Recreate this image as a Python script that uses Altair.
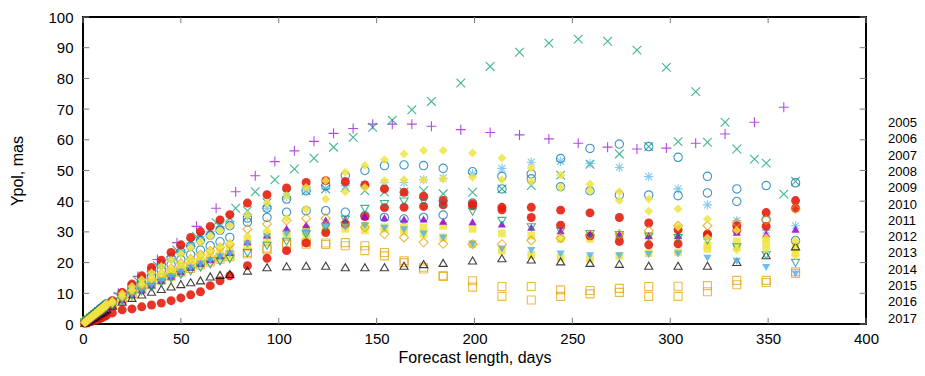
import altair as alt
import pandas as pd

FONT = "Liberation Sans"

YEARS = ["2005", "2006", "2007", "2008", "2009", "2010", "2011",
         "2012", "2013", "2014", "2015", "2016", "2017"]
COLORS = ["#9400D3", "#009E73", "#56B4E9", "#E69F00", "#F0E442", "#0072B2", "#E51E10",
          "#000000", "#9400D3", "#009E73", "#56B4E9", "#E69F00", "#F0E442"]

XTICKS = [0, 50, 100, 150, 200, 250, 300, 350, 400]
YTICKS = [0, 10, 20, 30, 40, 50, 60, 70, 80, 90, 100]

# forecast lengths (days)
DAYS_M = [1, 2, 3, 4, 5, 6, 7, 8, 9, 10, 11, 12,
          15, 20, 25, 30, 35, 40, 45, 50, 55, 60, 65, 70, 75,
          84, 94, 104, 114, 124, 134, 144, 154, 164, 174, 184,
          199, 214, 229, 244, 259, 274, 289, 304, 319, 334, 349, 364]
DAYS_P = [8, 18, 28, 38, 48, 58, 68, 78, 88, 98, 108, 118, 128, 138, 148, 158, 168, 178,
          193, 208, 223, 238, 253, 268, 283, 298, 313, 328, 343, 358]

Y2005 = [4.5, 10.0, 15.5, 21.0, 26.5, 31.8, 37.7, 43.1, 48.3, 52.9, 56.4, 59.5, 62.1, 63.7, 65.1, 65.1, 65.1, 64.4,
         63.3, 62.4, 61.6, 60.3, 58.9, 57.6, 57.0, 57.3, 58.9, 61.9, 65.7, 70.6]
Y2006_A = [4.0, 9.0, 14.0, 19.0, 24.0, 28.5, 33.0, 37.7, 43.1, 47.0, 50.5, 54.0, 57.6, 60.8, 64.1, 66.4, 69.8, 72.5,
           78.5, 83.9, 88.5, 91.5, 92.8, 92.1, 89.2, 83.6, 75.7, 65.7, 53.7, 42.3]
Y2006_B = [0.5, 1.0, 1.5, 2.0, 2.5, 3.0, 3.5, 4.0, 4.5, 5.0, 5.5, 6.0,
           7.0, 9.5, 12.0, 14.5, 17.0, 19.5, 22.0, 24.5, 26.5, 28.5, 30.5, 32.5, 34.5,
           36.9, 39.5, 42.4, 43.4, 44.0, 44.5, 43.4, 43.0, 43.0, 43.4, 42.4,
           42.9, 44.0, 45.1, 48.5, 52.0, 55.4, 57.8, 59.4, 59.2, 57.0, 52.4, 46.5]
Y2007 = [0.6, 1.1, 1.7, 2.2, 2.8, 3.3, 3.9, 4.4, 5.0, 5.5, 6.1, 6.6,
         7.3, 9.8, 12.3, 14.8, 17.2, 19.6, 22.0, 24.2, 26.4, 28.4, 30.2, 31.7, 32.9,
         35.0, 37.7, 41.5, 43.4, 44.0, 45.0, 45.5, 46.0, 46.1, 47.0, 47.5,
         49.0, 50.7, 52.7, 53.0, 52.3, 51.0, 48.0, 44.0, 38.8, 33.7, 30.5, 32.0]
Y2008_A = [0.5, 1.0, 1.4, 1.9, 2.4, 2.8, 3.3, 3.8, 4.2, 4.7, 5.2, 5.6,
           6.4, 8.3, 10.1, 11.8, 13.4, 14.9, 16.3, 17.6, 18.8, 19.9, 20.9, 21.8, 22.6,
           23.3, 24.7, 26.3, 26.6, 26.4, 26.5, 25.5, 23.3, 20.6, 18.5, 15.7,
           14.1, 12.2, 12.2, 11.1, 10.9, 11.6, 12.2, 12.3, 12.5, 14.2, 14.2, 17.0]
Y2008_B = [0.4, 0.9, 1.3, 1.8, 2.2, 2.7, 3.1, 3.6, 4.0, 4.5, 4.9, 5.4,
           6.2, 8.0, 9.7, 11.3, 12.8, 14.3, 15.6, 16.9, 18.1, 19.2, 20.2, 21.1, 21.9,
           22.8, 24.2, 25.8, 26.0, 25.9, 25.5, 23.9, 22.2, 20.0, 17.9, 15.5,
           12.0, 9.0, 7.8, 9.0, 9.8, 10.3, 9.0, 9.0, 10.5, 12.8, 13.5, 16.5]
Y2009_A = [0.5, 1.0, 1.5, 2.0, 2.4, 2.9, 3.4, 3.9, 4.4, 4.9, 5.3, 5.8,
           6.8, 8.7, 10.5, 12.2, 13.9, 15.5, 17.0, 18.5, 19.9, 21.2, 22.4, 23.5, 24.5,
           27.0, 29.0, 29.8, 31.0, 31.7, 32.0, 32.0, 31.5, 31.5, 31.5, 32.0,
           31.0, 29.5, 28.8, 27.7, 27.7, 28.5, 28.5, 28.0, 25.5, 26.9, 27.7, 25.0]
Y2009_B = [0.5, 0.9, 1.4, 1.9, 2.3, 2.8, 3.2, 3.7, 4.2, 4.6, 5.1, 5.5,
           6.5, 8.3, 10.0, 11.7, 13.3, 14.8, 16.2, 17.5, 18.7, 19.8, 20.8, 21.7, 22.5,
           25.7, 27.5, 29.3, 29.0, 30.5, 31.0, 30.5, 31.0, 30.1, 29.3, 28.2,
           26.0, 23.9, 22.5, 21.7, 21.2, 22.2, 23.1, 23.3, 24.5, 25.0, 26.0, 23.3]
Y2010_A = [0.6, 1.1, 1.7, 2.2, 2.8, 3.3, 3.9, 4.4, 5.0, 5.5, 6.0, 6.6,
           7.4, 10.0, 12.5, 14.9, 17.2, 19.4, 21.5, 23.5, 25.4, 27.2, 28.9, 30.5, 32.0,
           34.5, 37.7, 40.7, 43.4, 45.0, 48.3, 50.0, 51.6, 51.8, 51.6, 50.7,
           49.6, 48.1, 48.9, 53.9, 57.2, 58.6, 57.8, 54.3, 48.1, 44.0, 45.1, 46.0]
Y2010_B = [0.5, 1.1, 1.6, 2.1, 2.6, 3.2, 3.7, 4.2, 4.7, 5.2, 5.8, 6.3,
           7.0, 9.3, 11.5, 13.6, 15.6, 17.5, 19.3, 21.0, 22.6, 24.1, 25.5, 26.8, 28.2,
           33.2, 34.7, 36.4, 36.9, 36.9, 36.4, 35.3, 34.7, 34.2, 34.7, 35.5,
           39.4, 44.0, 47.3, 44.7, 43.4, 42.0, 42.0, 41.8, 42.7, 39.9, 34.0, 27.2]
Y2011_A = [0.5, 1.0, 1.5, 2.0, 2.5, 3.0, 3.5, 4.0, 4.6, 5.1, 5.6, 6.1,
           7.6, 10.3, 13.0, 15.7, 18.4, 20.8, 23.3, 25.8, 28.2, 30.1, 31.8, 33.9, 35.6,
           39.4, 42.1, 44.3, 46.1, 46.7, 46.4, 45.3, 44.0, 42.9, 41.5, 40.2,
           39.1, 38.0, 38.0, 37.1, 36.2, 34.7, 32.9, 30.7, 29.3, 32.0, 36.3, 40.2]
Y2011_B = [0.2, 0.4, 0.6, 0.8, 1.0, 1.2, 1.4, 1.6, 1.9, 2.2, 2.5, 2.8,
           3.6, 4.6, 4.9, 5.6, 6.2, 6.8, 7.6, 8.5, 9.5, 10.5, 12.5, 14.1, 15.7,
           19.0, 21.4, 23.9, 26.4, 29.8, 32.6, 35.0, 37.9, 38.0, 38.3, 38.8,
           38.5, 37.2, 34.7, 32.2, 28.7, 26.9, 25.8, 26.1, 29.0, 30.5, 31.8, 37.7]
Y2012 = [0.4, 0.8, 1.2, 1.6, 2.0, 2.4, 2.8, 3.2, 3.6, 4.0, 4.4, 4.8,
         6.0, 7.3, 8.5, 9.6, 10.5, 11.4, 12.2, 13.0, 13.6, 14.2, 15.5, 16.0, 16.3,
         17.4, 18.5, 18.8, 19.0, 19.0, 18.5, 18.5, 18.5, 19.0, 19.5, 19.9,
         20.7, 21.4, 21.0, 20.4, 19.9, 19.6, 19.0, 19.0, 19.0, 20.2, 22.4, 25.3]
Y2013 = [0.5, 0.9, 1.4, 1.8, 2.3, 2.7, 3.2, 3.6, 4.1, 4.5, 5.0, 5.4,
         6.3, 8.0, 9.6, 11.2, 12.7, 14.2, 15.6, 17.0, 18.4, 19.7, 21.0, 22.2, 23.3,
         26.8, 29.0, 31.2, 32.3, 33.9, 34.2, 35.1, 34.7, 34.2, 34.2, 33.5,
         33.3, 32.6, 31.5, 30.4, 29.5, 29.3, 28.8, 28.8, 28.6, 29.9, 29.3, 30.9]
Y2014 = [0.4, 0.9, 1.3, 1.7, 2.2, 2.6, 3.0, 3.5, 3.9, 4.3, 4.8, 5.2,
         6.0, 7.6, 9.1, 10.6, 12.0, 13.4, 14.7, 16.0, 17.2, 18.4, 19.4, 20.4, 21.2,
         23.1, 25.5, 26.8, 29.2, 31.5, 34.0, 37.5, 39.1, 39.9, 40.0, 38.8,
         36.6, 33.6, 31.5, 30.2, 29.3, 29.0, 28.5, 28.0, 27.2, 25.0, 22.4, 19.9]
Y2015 = [0.4, 0.9, 1.3, 1.8, 2.2, 2.7, 3.1, 3.6, 4.0, 4.5, 4.9, 5.4,
         6.2, 7.9, 9.5, 11.1, 12.6, 14.1, 15.5, 16.9, 18.2, 19.5, 20.7, 21.8, 22.8,
         26.0, 28.5, 29.3, 29.8, 31.7, 31.5, 32.0, 31.2, 30.7, 29.3, 28.0,
         26.0, 24.4, 23.9, 22.8, 22.2, 22.2, 22.6, 22.8, 21.4, 20.4, 18.4, 16.3]
Y2016 = [0.5, 1.0, 1.5, 2.0, 2.5, 3.0, 3.5, 4.0, 4.5, 5.0, 5.5, 6.0,
         6.8, 8.8, 10.8, 12.7, 14.6, 16.4, 18.1, 19.8, 21.2, 22.6, 23.9, 25.0, 26.0,
         30.9, 32.6, 33.7, 34.4, 34.4, 33.1, 31.5, 29.3, 28.2, 26.6, 26.1,
         26.0, 26.0, 27.2, 28.0, 29.0, 29.3, 30.4, 32.0, 32.0, 33.0, 33.9, 37.5]
Y2017_A = [0.6, 1.1, 1.7, 2.2, 2.8, 3.3, 3.9, 4.4, 5.0, 5.5, 6.1, 6.6,
           7.5, 9.9, 12.2, 14.4, 16.6, 18.7, 20.8, 22.8, 24.8, 26.7, 28.6, 30.4, 32.0,
           35.5, 39.4, 41.8, 44.5, 46.7, 49.4, 51.6, 53.5, 55.4, 56.5, 56.5,
           55.7, 54.1, 50.8, 48.5, 45.6, 43.1, 40.7, 37.5, 34.2, 30.5, 28.0, 27.1]
Y2017_B = [0.5, 1.0, 1.5, 2.0, 2.5, 3.0, 3.5, 4.0, 4.5, 5.0, 5.5, 6.0,
           6.9, 9.0, 11.0, 12.9, 14.7, 16.4, 18.0, 19.6, 21.1, 22.5, 23.9, 25.2, 26.4,
           28.6, 30.4, 34.4, 37.5, 40.7, 43.1, 44.5, 46.7, 47.0, 47.0, 47.2,
           47.8, 47.0, 46.5, 44.5, 43.4, 40.2, 36.7, 31.7, 28.0, 24.2, 24.4, 22.3]

SERIES = [
    ("2005", DAYS_P, Y2005),
    ("2006", DAYS_P, Y2006_A), ("2006", DAYS_M, Y2006_B),
    ("2007", DAYS_M, Y2007),
    ("2008", DAYS_M, Y2008_A), ("2008", DAYS_M, Y2008_B),
    ("2009", DAYS_M, Y2009_A), ("2009", DAYS_M, Y2009_B),
    ("2010", DAYS_M, Y2010_A), ("2010", DAYS_M, Y2010_B),
    ("2011", DAYS_M, Y2011_A), ("2011", DAYS_M, Y2011_B),
    ("2012", DAYS_M, Y2012),
    ("2013", DAYS_M, Y2013),
    ("2014", DAYS_M, Y2014),
    ("2015", DAYS_M, Y2015),
    ("2016", DAYS_M, Y2016),
    ("2017", DAYS_M, Y2017_A), ("2017", DAYS_M, Y2017_B),
]

PLUS = "M-1,0L1,0M0,-1L0,1"
CROSS = "M-1,-1L1,1M-1,1L1,-1"
STAR = "M-1,0L1,0M0,-1L0,1M-0.75,-0.75L0.75,0.75M-0.75,0.75L0.75,-0.75"
# shape, filled, size, opacity
MARKERS = [
    (PLUS, False, 100, 0.7), (CROSS, False, 75, 0.75), (STAR, False, 85, 0.7),
    ("square", False, 64, 0.7), ("square", True, 60, 0.85),
    ("circle", False, 70, 0.75), ("circle", True, 80, 0.9),
    ("triangle-up", False, 66, 0.75), ("triangle-up", True, 66, 0.85),
    ("triangle-down", False, 66, 0.75), ("triangle-down", True, 66, 0.85),
    ("diamond", False, 80, 0.75), ("diamond", True, 80, 0.85),
]

rows = []
for year, days, vals in SERIES:
    assert len(days) == len(vals), year
    for d, v in zip(days, vals):
        rows.append({"day": d, "val": v, "year": year})
df = pd.DataFrame(rows)

# inward tick marks (gnuplot style, mirrored on all four sides)
TICK_DX = 3.2   # days
TICK_DY = 2.0   # mas
trows = []
for t in XTICKS:
    trows.append({"day": t, "val": 0, "day2": t, "val2": TICK_DY})
    trows.append({"day": t, "val": 100, "day2": t, "val2": 100 - TICK_DY})
for t in YTICKS:
    trows.append({"day": 0, "val": t, "day2": TICK_DX, "val2": t})
    trows.append({"day": 400, "val": t, "day2": 400 - TICK_DX, "val2": t})
tick_df = pd.DataFrame(trows)

x_axis = alt.Axis(values=XTICKS, title="Forecast length, days", domain=False, ticks=False, grid=False,
                  labelFont=FONT, labelFontSize=15, labelColor="black", labelPadding=7, labelFlush=False,
                  titleFont=FONT, titleFontSize=16, titleFontWeight="normal", titleColor="black",
                  titlePadding=3)
y_axis = alt.Axis(values=YTICKS, title="Ypol, mas", domain=False, ticks=False, grid=False,
                  labelFont=FONT, labelFontSize=15, labelColor="black", labelPadding=10, labelFlush=False,
                  titleFont=FONT, titleFontSize=16, titleFontWeight="normal", titleColor="black",
                  titlePadding=22)

x_enc = alt.X("day:Q", scale=alt.Scale(domain=[0, 400], nice=False, zero=False), axis=x_axis)
y_enc = alt.Y("val:Q", scale=alt.Scale(domain=[0, 100], nice=False, zero=False), axis=y_axis)
color_scale = alt.Scale(domain=YEARS, range=COLORS)
legend = alt.Legend(title=None, orient="none", legendX=792, legendY=99.5, symbolSize=0, symbolOpacity=0,
                    symbolStrokeWidth=0, labelFont=FONT, labelFontSize=13, labelColor="black",
                    labelOffset=0, rowPadding=2.3, padding=0, labelLimit=100)

tick_layer = alt.Chart(tick_df).mark_rule(color="#7a7a7a", strokeWidth=1).encode(
    x=x_enc, y=y_enc, x2="day2:Q", y2="val2:Q")

layers = [tick_layer]
base = alt.Chart(df)
for i, yr in enumerate(YEARS):
    shape, filled, size, op = MARKERS[i]
    layers.append(
        base.transform_filter(alt.datum.year == yr)
        .mark_point(shape=shape, filled=filled, size=size, opacity=op, strokeWidth=1.1)
        .encode(x=x_enc, y=y_enc,
                color=alt.Color("year:N", scale=color_scale, legend=legend))
    )

chart = alt.layer(*layers).properties(
    width=783, height=307,
    padding={"left": 75, "top": 9, "right": 51, "bottom": 44},
    autosize=alt.AutoSizeParams(type="none"),
    background="white",
).configure_view(stroke="black", strokeWidth=2)

chart.save("out.html", embed_options={"renderer": "svg", "actions": False})
